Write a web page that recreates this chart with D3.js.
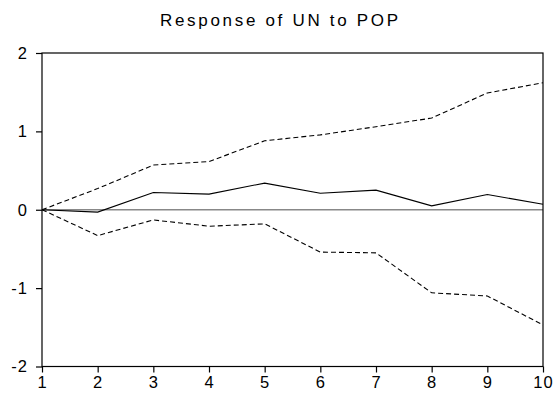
<!DOCTYPE html>
<html><head><meta charset="utf-8">
<script src="https://cdn.jsdelivr.net/npm/d3@7/dist/d3.min.js"></script>
<style>body{margin:0;background:#fff;} text{font-family:"Liberation Sans",Arial,sans-serif;}</style>
</head><body><svg id="c" width="556" height="400"></svg>
<script>
const periods = [1,2,3,4,5,6,7,8,9,10];
const response = [0,-0.03,0.22,0.20,0.34,0.21,0.25,0.05,0.195,0.07];
const upper = [0,0.27,0.57,0.615,0.88,0.955,1.06,1.17,1.49,1.62];
const lower = [0,-0.33,-0.13,-0.21,-0.18,-0.54,-0.55,-1.06,-1.10,-1.47];
const yTicks = [-2,-1,0,1,2];
const title = "Response of UN to POP";

const svg = d3.select("#c");
const m = {l:42, r:543, t:53, b:366.5};
const x = d3.scaleLinear().domain([1,10]).range([m.l, m.r]);
const y = d3.scaleLinear().domain([-2,2]).range([m.b, m.t]);

const t = svg.append("text").attr("x",160).attr("y",25.5)
  .style("font-size","17px").text(title);
const w = t.node().getComputedTextLength();
t.style("letter-spacing", ((238 - w) / (title.length - 1)) + "px");

svg.append("line").attr("x1",m.l).attr("x2",m.r).attr("y1",y(0)).attr("y2",y(0))
  .attr("stroke","#888").attr("stroke-width",1.5);

const line = d3.line().x((d,i)=>x(periods[i])).y(d=>y(d));
svg.append("path").datum(upper).attr("d",line).attr("fill","none").attr("stroke","#000")
  .attr("stroke-width",1.1).attr("stroke-dasharray","5,3");
svg.append("path").datum(lower).attr("d",line).attr("fill","none").attr("stroke","#000")
  .attr("stroke-width",1.1).attr("stroke-dasharray","5,3");
svg.append("path").datum(response).attr("d",line).attr("fill","none").attr("stroke","#000")
  .attr("stroke-width",1.1);

svg.append("rect").attr("x",m.l).attr("y",m.t).attr("width",m.r-m.l).attr("height",m.b-m.t)
  .attr("fill","none").attr("stroke","#000").attr("stroke-width",1.2);

const fmt = d => String(d);
const ya = svg.append("g").attr("transform",`translate(${m.l},0)`)
  .call(d3.axisLeft(y).tickValues(yTicks).tickSize(6).tickPadding(8).tickFormat(fmt));
ya.select(".domain").remove();
ya.selectAll("line").attr("stroke","#000").attr("stroke-width",1.2);
ya.selectAll("text").style("font-size","16.5px").style("letter-spacing","1px").attr("fill","#000")
  .style("font-family","Liberation Sans, Arial, sans-serif");
const xa = svg.append("g").attr("transform",`translate(0,${m.b})`)
  .call(d3.axisBottom(x).tickValues(periods).tickSize(6).tickPadding(4).tickFormat(fmt));
xa.select(".domain").remove();
xa.selectAll("line").attr("stroke","#000").attr("stroke-width",1.2);
xa.selectAll("text").style("font-size","16.5px").style("letter-spacing","1px").attr("fill","#000")
  .style("font-family","Liberation Sans, Arial, sans-serif");
</script></body></html>
